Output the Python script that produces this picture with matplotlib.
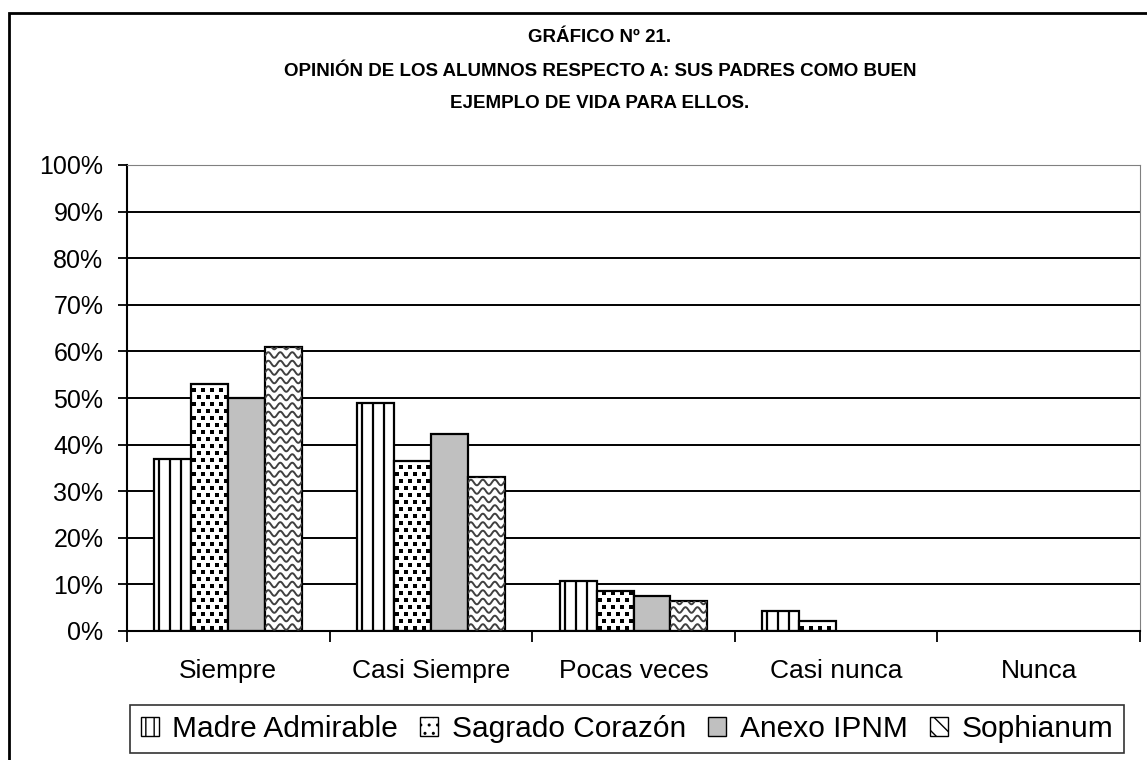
import matplotlib.pyplot as plt
import numpy as np
from matplotlib.patches import Patch, Rectangle

plt.rcParams['font.family'] = ['Liberation Sans', 'DejaVu Sans']

# datos (porcentajes)
categorias = ['Siempre', 'Casi Siempre', 'Pocas veces', 'Casi nunca', 'Nunca']
colegios = ['Madre Admirable', 'Sagrado Corazón', 'Anexo IPNM', 'Sophianum']
madre_admirable = [37, 49, 10.7, 4.3, 0]
sagrado_corazon = [53, 36.5, 8.6, 2.1, 0]
anexo_ipnm = [50, 42.3, 7.5, 0, 0]
sophianum = [61, 33, 6.4, 0, 0]
yticks = [0, 10, 20, 30, 40, 50, 60, 70, 80, 90, 100]

lineas_titulo = ['GRÁFICO Nº 21.',
                 'OPINIÓN DE LOS ALUMNOS RESPECTO A: SUS PADRES COMO BUEN',
                 'EJEMPLO DE VIDA PARA ELLOS.']

W, H = 1147, 760
fig = plt.figure(figsize=(W / 100, H / 100), dpi=100)
ax = fig.add_axes([127 / W, 1 - 631 / H, (1140 - 127) / W, (631 - 165) / H])

# marco exterior del grafico (se sale por la derecha y por abajo)
fig.patches.append(Rectangle((9 / W, -0.1), 1.2, 1.1 - 13 / H,
                             transform=fig.transFigure, fill=False,
                             edgecolor='black', lw=2, clip_on=False))

x = np.arange(len(categorias))
ancho = 0.1825
ax.set_xlim(-0.5, 4.5)
ax.set_ylim(0, 100)

# pixeles -> datos
px_x = 5 / (1140 - 127)
px_y = 100 / (631 - 165)

for v in yticks[1:]:
    ax.axhline(v, color='black' if v < 100 else '#808080', lw=1.4, zorder=1)


def rayas_verticales(bar):
    x0, w, h = bar.get_x(), bar.get_width(), bar.get_height()
    for xx in np.arange(x0 + 5 * px_x, x0 + w, 11 * px_x):
        ln, = ax.plot([xx, xx], [0, h], color='black', lw=1.6, zorder=3)
        ln.set_clip_path(bar)


def puntos(bar):
    x0, w, h = bar.get_x(), bar.get_width(), bar.get_height()
    fila = 0
    for yy in np.arange(3 * px_y, h, 7 * px_y):
        off = 0 if fila % 2 == 0 else 4.5 * px_x
        xs = np.arange(x0 + 3 * px_x + off, x0 + w, 9 * px_x)
        sc = ax.scatter(xs, np.full(len(xs), yy), marker='s', s=11,
                        color='black', linewidths=0, zorder=3)
        sc.set_clip_path(bar)
        fila += 1


def ondas(bar):
    x0, w, h = bar.get_x(), bar.get_width(), bar.get_height()
    xs = np.linspace(x0, x0 + w, 60)
    for yy in np.arange(4 * px_y, h + 4 * px_y, 8.5 * px_y):
        ys = yy + 2.8 * px_y * np.sin(2 * np.pi * (xs - x0) / (12 * px_x))
        ln, = ax.plot(xs, ys, color='#404040', lw=1.4, zorder=3)
        ln.set_clip_path(bar)


series = [madre_admirable, sagrado_corazon, anexo_ipnm, sophianum]
rellenos = ['white', 'white', '#c0c0c0', 'white']
texturas = [rayas_verticales, puntos, None, ondas]
for i, (vals, color, tex) in enumerate(zip(series, rellenos, texturas)):
    barras = ax.bar(x + (i - 1.5) * ancho, vals, ancho, color=color,
                    edgecolor='black', lw=1.6, zorder=2)
    for b in barras:
        if b.get_height() > 0 and tex is not None:
            tex(b)
        if b.get_height() == 0:
            b.set_visible(False)

ax.set_yticks(yticks)
ax.set_yticklabels([f'{v}%' for v in yticks], fontsize=18)
ax.set_xticks(x)
ax.set_xticklabels(categorias, fontsize=19)
ax.set_xticks(np.arange(-0.5, 5, 1), minor=True)
ax.tick_params(axis='x', which='major', length=0, pad=20)
ax.tick_params(axis='x', which='minor', length=8, width=1.3, direction='out')
ax.tick_params(axis='y', length=6.5, width=1.3, direction='out', pad=10.5)

for lado in ['left', 'bottom']:
    ax.spines[lado].set_linewidth(1.5)
ax.spines['top'].set_color('#808080')
ax.spines['right'].set_color('#808080')

for yy, linea in zip([37, 71, 103], lineas_titulo):
    fig.text(600 / W, 1 - yy / H, linea, ha='center', va='center',
             fontsize=13.5, fontweight='bold')

handles = [Patch(facecolor='white', edgecolor='black', hatch='||'),
           Patch(facecolor='white', edgecolor='black', hatch='..'),
           Patch(facecolor='#c0c0c0', edgecolor='black'),
           Patch(facecolor='white', edgecolor='black', hatch='\\\\')]
leg = fig.legend(handles, colegios, loc='center', ncol=4,
                 bbox_to_anchor=(627 / W, 1 - 729 / H), fontsize=21.5,
                 frameon=True, fancybox=False, edgecolor='black',
                 handlelength=0.6, handleheight=0.6, handletextpad=0.45,
                 columnspacing=0.75, borderpad=0.35, borderaxespad=0)
leg.get_frame().set_linewidth(1.2)

fig.savefig('out.png', dpi=100)
